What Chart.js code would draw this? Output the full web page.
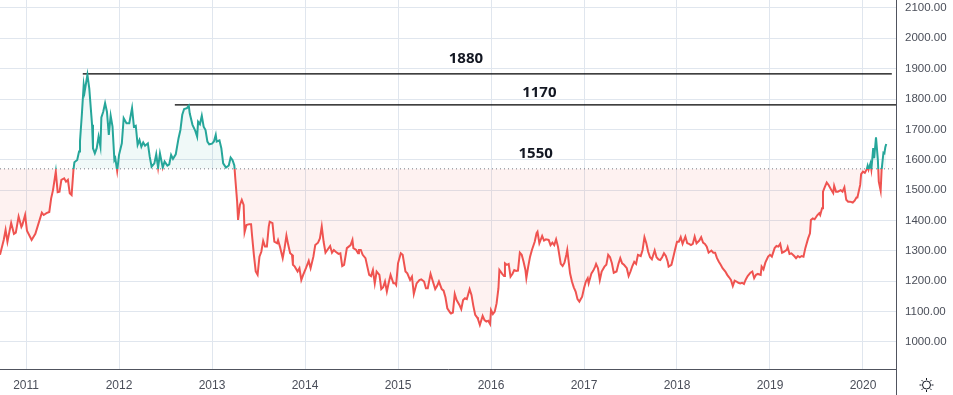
<!DOCTYPE html>
<html>
<head>
<meta charset="utf-8">
<script src="https://cdn.jsdelivr.net/npm/chart.js@4/dist/chart.umd.min.js"></script>
<style>
  html, body { margin: 0; padding: 0; background: #fff; }
  #wrap { width: 953px; height: 395px; }
</style>
</head>
<body>
<div id="wrap"><canvas id="chart" width="953" height="395"></canvas></div>
<script>
// price series (decimal year, close)
const dates = [
  2010.72, 2010.76, 2010.78, 2010.80, 2010.84, 2010.87, 2010.89, 2010.92, 2010.95, 2010.96, 2010.99,
  2011.01, 2011.06, 2011.10, 2011.17, 2011.19, 2011.22, 2011.25, 2011.27, 2011.29, 2011.32, 2011.34,
  2011.36, 2011.38, 2011.41, 2011.43, 2011.45, 2011.47, 2011.49, 2011.51, 2011.52, 2011.55, 2011.57,
  2011.58, 2011.60, 2011.62, 2011.63, 2011.66, 2011.68, 2011.71, 2011.72, 2011.74, 2011.76, 2011.78,
  2011.80, 2011.81, 2011.83, 2011.85, 2011.87, 2011.89, 2011.91, 2011.93, 2011.95, 2011.96, 2011.98,
  2012.00, 2012.03, 2012.05, 2012.08, 2012.11, 2012.14, 2012.16, 2012.18, 2012.20, 2012.22, 2012.24,
  2012.26, 2012.28, 2012.31, 2012.33, 2012.35, 2012.38, 2012.40, 2012.42, 2012.44, 2012.47, 2012.49,
  2012.52, 2012.54, 2012.56, 2012.58, 2012.61, 2012.64, 2012.66, 2012.68, 2012.70, 2012.73, 2012.75,
  2012.76, 2012.79, 2012.82, 2012.84, 2012.85, 2012.87, 2012.89, 2012.91, 2012.93, 2012.95, 2012.97,
  2013.00, 2013.02, 2013.04, 2013.05, 2013.08, 2013.10, 2013.12, 2013.15, 2013.18, 2013.20, 2013.22,
  2013.24, 2013.25, 2013.27, 2013.28, 2013.30, 2013.32, 2013.34, 2013.35, 2013.37, 2013.40, 2013.42,
  2013.43, 2013.45, 2013.47, 2013.49, 2013.51, 2013.53, 2013.55, 2013.57, 2013.59, 2013.61, 2013.62,
  2013.65, 2013.67, 2013.70, 2013.71, 2013.73, 2013.76, 2013.78, 2013.80, 2013.82, 2013.84, 2013.86,
  2013.87, 2013.89, 2013.92, 2013.94, 2013.96, 2013.98, 2014.01, 2014.04, 2014.06, 2014.09, 2014.11,
  2014.14, 2014.16, 2014.18, 2014.20, 2014.22, 2014.24, 2014.27, 2014.29, 2014.31, 2014.33, 2014.36,
  2014.38, 2014.40, 2014.42, 2014.45, 2014.47, 2014.49, 2014.51, 2014.52, 2014.55, 2014.57, 2014.58,
  2014.60, 2014.62, 2014.65, 2014.67, 2014.69, 2014.71, 2014.73, 2014.75, 2014.77, 2014.80, 2014.82,
  2014.84, 2014.86, 2014.88, 2014.90, 2014.92, 2014.95, 2014.97, 2014.98, 2015.00, 2015.03, 2015.05,
  2015.08, 2015.10, 2015.13, 2015.15, 2015.17, 2015.20, 2015.23, 2015.25, 2015.28, 2015.30, 2015.32,
  2015.35, 2015.37, 2015.40, 2015.42, 2015.44, 2015.47, 2015.49, 2015.51, 2015.53, 2015.56, 2015.57,
  2015.59, 2015.61, 2015.63, 2015.66, 2015.68, 2015.70, 2015.72, 2015.74, 2015.77, 2015.79, 2015.81,
  2015.83, 2015.85, 2015.86, 2015.88, 2015.91, 2015.93, 2015.95, 2015.97, 2015.99, 2016.00, 2016.02,
  2016.04, 2016.06, 2016.08, 2016.09, 2016.12, 2016.14, 2016.15, 2016.17, 2016.19, 2016.21, 2016.23,
  2016.25, 2016.27, 2016.29, 2016.31, 2016.33, 2016.35, 2016.37, 2016.38, 2016.40, 2016.42, 2016.44,
  2016.47, 2016.49, 2016.50, 2016.52, 2016.55, 2016.57, 2016.59, 2016.62, 2016.64, 2016.66, 2016.68,
  2016.70, 2016.72, 2016.75, 2016.77, 2016.79, 2016.81, 2016.82, 2016.85, 2016.87, 2016.89, 2016.91,
  2016.93, 2016.95, 2016.98, 2017.00, 2017.02, 2017.04, 2017.05, 2017.08, 2017.10, 2017.12, 2017.13,
  2017.15, 2017.17, 2017.19, 2017.22, 2017.24, 2017.26, 2017.28, 2017.30, 2017.32, 2017.35, 2017.37,
  2017.39, 2017.41, 2017.43, 2017.46, 2017.48, 2017.50, 2017.52, 2017.54, 2017.56, 2017.58, 2017.61,
  2017.63, 2017.65, 2017.67, 2017.69, 2017.71, 2017.73, 2017.76, 2017.78, 2017.80, 2017.82, 2017.84,
  2017.86, 2017.88, 2017.90, 2017.91, 2017.94, 2017.96, 2017.98, 2018.00, 2018.02, 2018.04, 2018.06,
  2018.09, 2018.11, 2018.13, 2018.15, 2018.17, 2018.19, 2018.21, 2018.24, 2018.26, 2018.28, 2018.30,
  2018.32, 2018.34, 2018.37, 2018.39, 2018.41, 2018.43, 2018.45, 2018.47, 2018.49, 2018.52, 2018.54,
  2018.56, 2018.58, 2018.60, 2018.62, 2018.64, 2018.66, 2018.68, 2018.70, 2018.72, 2018.74, 2018.76,
  2018.79, 2018.81, 2018.83, 2018.85, 2018.87, 2018.90, 2018.91, 2018.93, 2018.95, 2018.98, 2019.00,
  2019.02, 2019.05, 2019.07, 2019.09, 2019.11, 2019.13, 2019.15, 2019.18, 2019.19, 2019.21, 2019.23,
  2019.26, 2019.28, 2019.30, 2019.32, 2019.34, 2019.36, 2019.38, 2019.41, 2019.43, 2019.44, 2019.46,
  2019.48, 2019.51, 2019.53, 2019.54, 2019.56, 2019.57, 2019.59, 2019.61, 2019.63, 2019.66, 2019.68,
  2019.69, 2019.71, 2019.73, 2019.76, 2019.78, 2019.80, 2019.82, 2019.84, 2019.86, 2019.89, 2019.91,
  2019.93, 2019.94, 2019.97, 2019.98, 2020.00, 2020.02, 2020.04, 2020.05, 2020.06, 2020.08, 2020.09,
  2020.11, 2020.12, 2020.14, 2020.16, 2020.17, 2020.19, 2020.20, 2020.22, 2020.23, 2020.24, 2020.25
];
const prices = [
  1287, 1336, 1369, 1330, 1392, 1356, 1360, 1413, 1379, 1385, 1418,
  1366, 1336, 1356, 1426, 1418, 1424, 1428, 1473, 1500, 1561, 1493,
  1495, 1534, 1539, 1528, 1534, 1490, 1484, 1567, 1592, 1599, 1627,
  1660, 1748, 1846, 1824, 1880, 1835, 1715, 1638, 1621, 1638, 1676,
  1643, 1739, 1758, 1786, 1758, 1682, 1745, 1709, 1599, 1605, 1563,
  1616, 1654, 1737, 1720, 1720, 1770, 1709, 1712, 1649, 1665, 1643,
  1657, 1646, 1654, 1610, 1577, 1588, 1618, 1574, 1621, 1574, 1594,
  1581, 1585, 1616, 1603, 1618, 1671, 1698, 1748, 1767, 1770, 1778,
  1753, 1715, 1695, 1676, 1725, 1717, 1745, 1709, 1698, 1660, 1651,
  1653, 1660, 1682, 1660, 1664, 1638, 1588, 1574, 1581, 1607, 1599,
  1581, 1539, 1462, 1402, 1451, 1468, 1451, 1361, 1385, 1388, 1388,
  1352, 1287, 1232, 1221, 1281, 1297, 1333, 1314, 1314, 1380, 1396,
  1391, 1330, 1325, 1335, 1314, 1276, 1309, 1350, 1319, 1292, 1287,
  1254, 1248, 1232, 1243, 1204, 1221, 1243, 1267, 1243, 1281, 1319,
  1327, 1341, 1380, 1330, 1294, 1303, 1316, 1294, 1303, 1297, 1290,
  1292, 1250, 1254, 1309, 1314, 1319, 1336, 1309, 1303, 1292, 1303,
  1303, 1287, 1276, 1248, 1221, 1217, 1237, 1193, 1232, 1221, 1174,
  1180, 1199, 1166, 1195, 1221, 1193, 1193, 1188, 1259, 1292, 1287,
  1232, 1226, 1204, 1215, 1158, 1193, 1204, 1206, 1199, 1177, 1177,
  1224, 1204, 1174, 1184, 1199, 1174, 1169, 1147, 1111, 1097, 1094,
  1097, 1158, 1138, 1122, 1108, 1138, 1144, 1141, 1174, 1155, 1119,
  1089, 1081, 1075, 1056, 1086, 1072, 1067, 1070, 1059, 1105, 1092,
  1100, 1127, 1177, 1237, 1224, 1217, 1259, 1254, 1257, 1215, 1224,
  1237, 1234, 1235, 1294, 1287, 1264, 1237, 1210, 1248, 1281, 1303,
  1330, 1358, 1363, 1325, 1349, 1334, 1338, 1336, 1319, 1327, 1319,
  1338, 1314, 1257, 1250, 1261, 1287, 1303, 1226, 1199, 1180, 1166,
  1141, 1133, 1149, 1177, 1199, 1210, 1193, 1226, 1235, 1248, 1257,
  1243, 1204, 1232, 1248, 1254, 1287, 1279, 1259, 1228, 1232, 1257,
  1276, 1259, 1254, 1243, 1217, 1232, 1250, 1264, 1257, 1287, 1283,
  1303, 1345, 1325, 1297, 1279, 1272, 1301, 1279, 1272, 1270, 1279,
  1292, 1283, 1264, 1248, 1254, 1279, 1305, 1330, 1330, 1345, 1323,
  1347, 1325, 1323, 1319, 1323, 1347, 1325, 1334, 1345, 1327, 1323,
  1314, 1294, 1301, 1294, 1294, 1276, 1264, 1254, 1243, 1232, 1221,
  1213, 1204, 1184, 1202, 1199, 1195, 1193, 1195, 1191, 1206, 1217,
  1228, 1232, 1210, 1221, 1224, 1221, 1248, 1239, 1261, 1281, 1287,
  1281, 1309, 1316, 1314, 1323, 1294, 1297, 1303, 1312, 1290, 1292,
  1283, 1276, 1283, 1279, 1283, 1281, 1309, 1341, 1358, 1402, 1407,
  1404, 1418, 1424, 1418, 1440, 1495, 1511, 1525, 1517, 1500, 1490,
  1514, 1495, 1495, 1500, 1495, 1509, 1468, 1462, 1462, 1459, 1465,
  1476, 1476, 1517, 1553, 1561, 1557, 1568, 1580, 1568, 1588, 1568,
  1638, 1605, 1674, 1599, 1528, 1498, 1566, 1623, 1621, 1641, 1652
];

const baseline = 1570;

// axis ticks
const yearTicks = [2011, 2012, 2013, 2014, 2015, 2016, 2017, 2018, 2019, 2020];
const priceTicks = [1000, 1100, 1200, 1300, 1400, 1500, 1600, 1700, 1800, 1900, 2000, 2100];

// horizontal levels
const levelPrices = [1883, 1781];
const levelStarts = [2011.61, 2012.60];
const levelEnds = [2020.31, 2020.36];

// text notes
const noteTexts = ['1880', '1170', '1550'];
const noteDates = [2015.73, 2016.52, 2016.48];
const notePrices = [1932, 1820, 1619];

const xMin = 2010.72, xMax = 2020.355;
const yMin = 911, yMax = 2126;

const UP = '#26a69a';
const DOWN = '#ef5350';
const GRID = '#e0e6ee';
const AXIS = '#50535e';

function splitColor(ctx) {
  const chart = ctx.chart;
  const area = chart.chartArea;
  if (!area) return DOWN;
  const y = chart.scales.y.getPixelForValue(baseline);
  const f = Math.min(Math.max((y - area.top) / (area.bottom - area.top), 0), 1);
  const g = chart.ctx.createLinearGradient(0, area.top, 0, area.bottom);
  g.addColorStop(0, UP);
  g.addColorStop(f, UP);
  g.addColorStop(f, DOWN);
  g.addColorStop(1, DOWN);
  return g;
}

const priceData = dates.map((d, i) => ({ x: d, y: prices[i] }));

const levelSets = levelPrices.map((p, i) => ({
  data: [{ x: levelStarts[i], y: p }, { x: levelEnds[i], y: p }],
  borderColor: '#000',
  borderWidth: 1.3,
  pointRadius: 0,
  fill: false
}));

// notes + axis extension + settings icon
const extras = {
  id: 'extras',
  afterDraw(chart) {
    const c = chart.ctx;
    const x = chart.scales.x, y = chart.scales.y;
    c.save();
    c.fillStyle = '#131722';
    c.font = 'bold 15px "Open Sans", sans-serif';
    c.textAlign = 'center';
    c.textBaseline = 'middle';
    noteTexts.forEach((t, i) => {
      c.fillText(t, x.getPixelForValue(noteDates[i]), y.getPixelForValue(notePrices[i]));
    });

    // right axis line runs down through the time axis
    const ax = Math.round(chart.chartArea.right) + 0.5;
    c.strokeStyle = AXIS;
    c.lineWidth = 1;
    c.beginPath();
    c.moveTo(ax, chart.chartArea.bottom);
    c.lineTo(ax, chart.height);
    c.stroke();

    // little sun icon
    const cx = (chart.chartArea.right + chart.width) / 2 + 2;
    const cy = (chart.chartArea.bottom + chart.height) / 2 + 3;
    c.strokeStyle = '#131722';
    c.beginPath();
    c.arc(cx, cy, 4, 0, Math.PI * 2);
    c.stroke();
    for (let k = 0; k < 8; k++) {
      const a = k * Math.PI / 4;
      c.beginPath();
      c.moveTo(cx + Math.cos(a) * 5, cy + Math.sin(a) * 5);
      c.lineTo(cx + Math.cos(a) * 7, cy + Math.sin(a) * 7);
      c.stroke();
    }
    c.restore();
  }
};

new Chart(document.getElementById('chart'), {
  type: 'line',
  data: {
    datasets: [
      {
        data: priceData,
        borderColor: splitColor,
        borderWidth: 2,
        pointRadius: 0,
        tension: 0,
        fill: {
          target: { value: baseline },
          above: 'rgba(38,166,154,0.07)',
          below: 'rgba(239,83,80,0.08)'
        }
      },
      {
        data: [{ x: xMin, y: baseline }, { x: xMax, y: baseline }],
        borderColor: '#787b86',
        borderWidth: 1,
        borderDash: [1, 3],
        pointRadius: 0,
        fill: false
      },
      ...levelSets
    ]
  },
  options: {
    responsive: false,
    animation: false,
    devicePixelRatio: 1,
    layout: { padding: 0 },
    plugins: { legend: { display: false }, tooltip: { enabled: false } },
    scales: {
      x: {
        type: 'linear',
        min: xMin,
        max: xMax,
        afterBuildTicks: s => { s.ticks = yearTicks.map(v => ({ value: v })); },
        afterFit: s => { s.height = 26; s.paddingLeft = 0; s.paddingRight = 0; },
        ticks: {
          padding: 9,
          color: '#4a4e59',
          font: { family: '"Liberation Sans", Arial, sans-serif', size: 12 },
          callback: v => String(v)
        },
        grid: { color: GRID, drawTicks: false },
        border: { display: true, color: AXIS, width: 1 }
      },
      y: {
        position: 'right',
        min: yMin,
        max: yMax,
        afterBuildTicks: s => { s.ticks = priceTicks.map(v => ({ value: v })); },
        afterFit: s => { s.width = 57; s.paddingTop = 0; s.paddingBottom = 0; },
        ticks: {
          padding: 9,
          color: '#4a4e59',
          font: { family: '"Liberation Sans", Arial, sans-serif', size: 11.5 },
          callback: v => v.toFixed(2)
        },
        grid: { color: GRID, drawTicks: false },
        border: { display: true, color: AXIS, width: 1 }
      }
    }
  },
  plugins: [extras]
});
</script>
</body>
</html>
